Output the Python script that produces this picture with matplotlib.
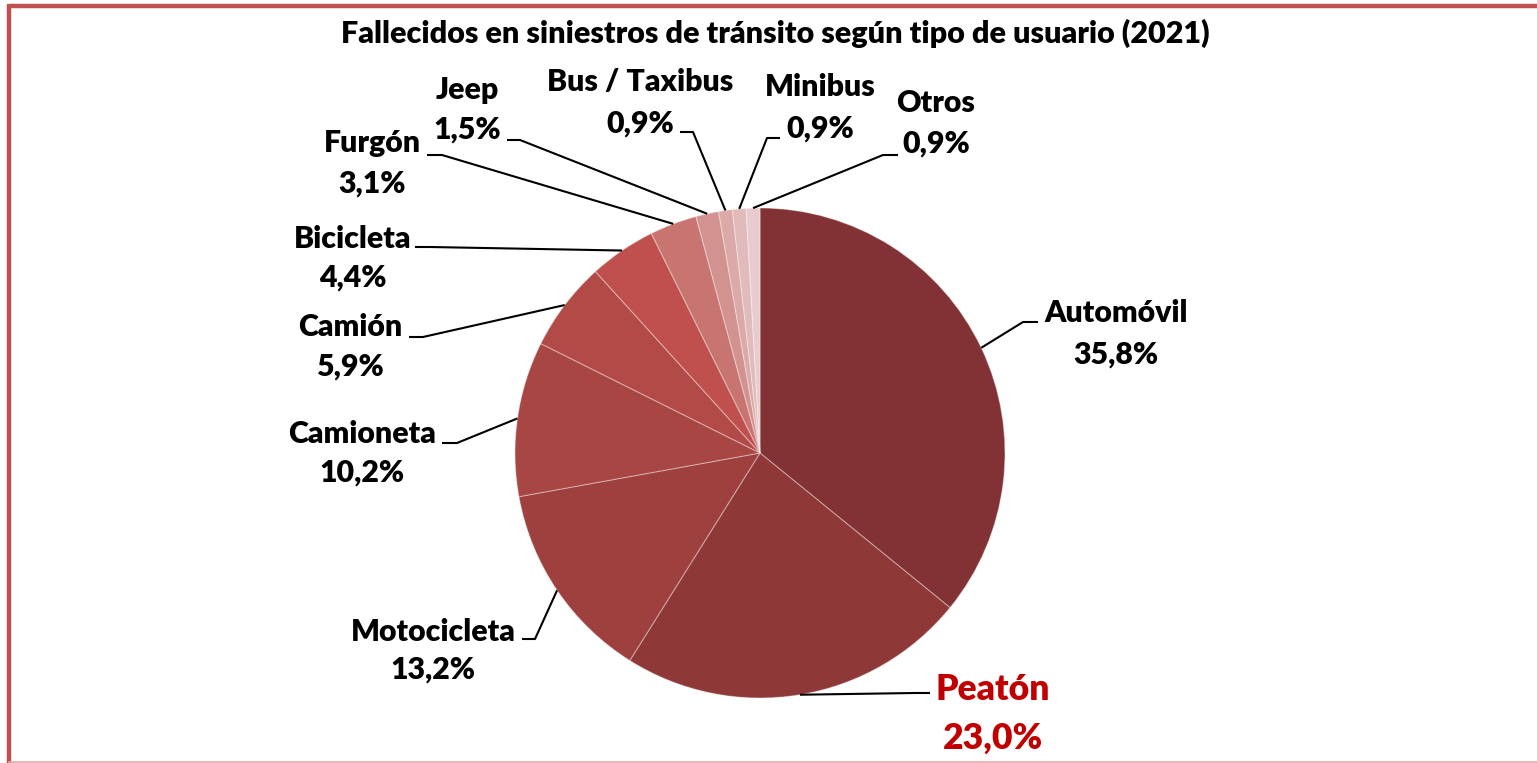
import numpy as np
import matplotlib
matplotlib.use("Agg")
import matplotlib.pyplot as plt

# ---- data ----
categories = ["Automóvil", "Peatón", "Motocicleta", "Camioneta", "Camión",
              "Bicicleta", "Furgón", "Jeep", "Bus / Taxibus", "Minibus", "Otros"]
values = [35.8, 23.0, 13.2, 10.2, 5.9, 4.4, 3.1, 1.5, 0.9, 0.9, 0.9]
value_labels = ["35,8%", "23,0%", "13,2%", "10,2%", "5,9%", "4,4%",
                "3,1%", "1,5%", "0,9%", "0,9%", "0,9%"]
title = "Fallecidos en siniestros de tránsito según tipo de usuario (2021)"

colors = ["#823234", "#8E3937", "#9D403E", "#A84644", "#B24B48", "#BF504D",
          "#C87572", "#D29290", "#DBA9A8", "#E1BBBB", "#E8CCCD"]

# ---- layout (pixel coordinates, y from top) ----
W, H = 1537, 763
CX, CY, R = 760, 453, 245
# label centre x, name y, value y
label_pos = [(1116, 313, 355), (993, 690, 738), (433, 632, 670), (362, 434, 473),
             (350, 327, 367), (353, 239, 278), (372, 143, 184), (467, 90, 130),
             (640, 82, 124), (820, 87, 129), (936, 103, 144)]
# leader elbow and end (x_elbow, y, x_end)
leader = [(1023, 322, 1038), (915, 693, 930), (535, 639, 522), (457, 443, 442),
          (423, 337, 409), (430, 247, 415), (442, 155, 427), (520, 140, 507),
          (693, 132, 680), (767, 138, 780), (883, 155, 898)]

FONT = "Lato"
WEIGHT = "heavy"

fig = plt.figure(figsize=(W / 100, H / 100), dpi=100)
ax = fig.add_axes([0, 0, 1, 1])

def fy(py):
    return H - py

wedges, _ = ax.pie(values, colors=colors, startangle=90, counterclock=False,
                   center=(CX, fy(CY)), radius=R,
                   wedgeprops=dict(edgecolor=(1, 1, 1, 0.35), linewidth=0.8))
ax.set_xlim(0, W)
ax.set_ylim(0, H)
ax.set_aspect("equal")
ax.axis("off")

for i, w in enumerate(wedges):
    mid = np.deg2rad((w.theta1 + w.theta2) / 2)
    px = CX + R * np.cos(mid)
    py_ = fy(CY) + R * np.sin(mid)
    ex, ey, hx = leader[i]
    ax.plot([px, ex, hx], [py_, fy(ey), fy(ey)], color="black", lw=1.5,
            solid_capstyle="butt", zorder=3)
    x, y1, y2 = label_pos[i]
    if categories[i] == "Peatón":
        col, fs = "#C00000", 25.6
    else:
        col, fs = "black", 21.8
    ax.text(x, fy(y1), categories[i], ha="center", va="center", fontsize=fs,
            fontweight=WEIGHT, color=col, family=FONT)
    ax.text(x, fy(y2), value_labels[i], ha="center", va="center", fontsize=fs,
            fontweight=WEIGHT, color=col, family=FONT)

ax.text(775, fy(33), title, ha="center", va="center", fontsize=22.0,
        fontweight=WEIGHT, color="black", family=FONT)

# frame
frame_col = "#C0504D"
ax.plot([9, W], [fy(5.5), fy(5.5)], color=frame_col, lw=3.2, solid_capstyle="butt")
ax.plot([9, 9], [fy(4), 0], color=frame_col, lw=3.2, solid_capstyle="butt")
ax.plot([9, W], [fy(761.5), fy(761.5)], color="#E8A8A8", lw=1.2)

fig.savefig("out.png", dpi=100)
